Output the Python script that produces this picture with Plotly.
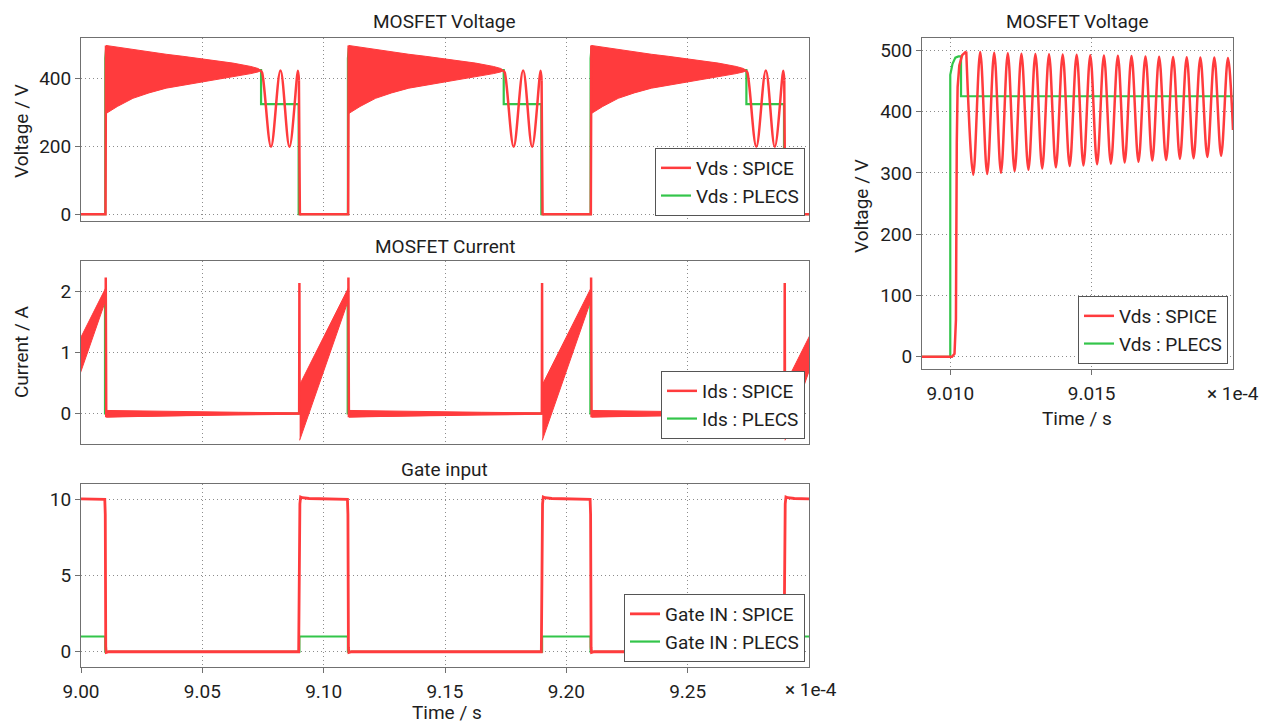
import plotly.graph_objects as go

W, H = 1273, 724
def px(x): return x / W
def py(y): return 1 - y / H

RED = '#ff3b3d'
GREEN = '#33c54a'
FONT = 'Roboto'
TXT = '#1e1e1e'
FRAME = '#707070'
GRID = '#8c8c8c'

# ---------------- data (time in units of 1e-4 s) ----------------
# gate turn-on instants of the switching cycles
cycle_on = [8.99, 9.09, 9.19, 9.29]

# Vds SPICE, times relative to gate turn-on
vds_spice_rise_t = [0.0004, 0.0201, 0.0202, 0.0203]
vds_spice_rise_v = [0, 0, 250, 498]
vds_ring_t = [0.0203, 0.0250, 0.0314, 0.0380, 0.0451, 0.0520, 0.0588, 0.0660, 0.0726, 0.0800, 0.0830, 0.0842]
vds_ring_upper = [498, 493, 485, 479, 472, 466, 460, 453, 446, 436, 430, 424]
vds_ring_lower = [297, 318, 342, 358, 372, 382, 389, 398, 406, 415, 420, 424]
vds_dcm_t = [0.0840, 0.0846, 0.0883, 0.0922, 0.0959, 0.0994, 0.0998]
vds_dcm_v = [424, 418, 199, 424, 199, 423, 395]
vds_fall_t = [0.0998, 0.1000, 0.1002, 0.1004]
vds_fall_v = [395, 150, -3, 0]

# Vds PLECS, relative to gate turn-on
vds_plecs_t = [0.0000, 0.0200, 0.0200, 0.02008, 0.02018, 0.02029, 0.02038, 0.02038,
               0.0842, 0.0842, 0.0997, 0.0997, 0.1000]
vds_plecs_v = [0, 0, 460, 478, 488, 490, 490, 425, 425, 325, 325, 0, 0]

# Ids SPICE, relative to gate turn-on
ids_spice_t = [-0.0001, 0.0000, 0.0001, None, 0.0202, 0.0202, 0.0204, 0.0999]
ids_spice_v = [0.0, 2.14, 0.0, None, 1.96, 2.23, -0.04, 0.0]
ids_on_band_t = [0.0001, 0.0202]
ids_on_band_upper = [0.47, 2.06]
ids_on_band_lower = [-0.44, 1.86]
ids_off_band_t = [0.0204, 0.0350, 0.0550, 0.0750, 0.0999]
ids_off_band_upper = [0.05, 0.04, 0.03, 0.02, 0.01]
ids_off_band_lower = [-0.06, -0.05, -0.03, -0.015, -0.01]

# Ids PLECS
ids_plecs_t = [0.0, 0.0199, 0.0199, 0.1000]
ids_plecs_v = [0.0, 1.99, 0.0, 0.0]

# Gate SPICE / PLECS
gate_spice_t = [-0.0003, 0.0002, 0.0005, 0.0012, 0.0040, 0.0198, 0.0200, 0.0202, 0.0204, 0.0215, 0.0997]
gate_spice_v = [0.0, 9.7, 10.15, 10.1, 10.05, 10.0, 9.0, 0.3, -0.05, 0.0, 0.0]
gate_plecs_t = [0.0, 0.0, 0.0200, 0.0200, 0.1000]
gate_plecs_v = [0, 1, 1, 0, 0]

# Zoomed Vds SPICE (absolute time)
zoom_rise_t = [9.0090, 9.01006, 9.01015, 9.01020, 9.01023, 9.01026, 9.01032, 9.01042, 9.010565]
zoom_rise_v = [0, 0, 5, 60, 350, 440, 475, 492, 498]
zoom_peak_t = [9.010565, 9.011059, 9.011553, 9.012035, 9.012517, 9.013011, 9.013493, 9.013976,
               9.014470, 9.014952, 9.015434, 9.015928, 9.016410, 9.016904, 9.017387, 9.017881,
               9.018363, 9.018845, 9.019339, 9.019821]
zoom_peak_v = [498, 497, 496, 495, 494.5, 494, 493.5, 493, 492.5, 492, 491.5, 491, 490.5, 490,
               489.5, 489, 488.5, 488, 488, 487.5]
zoom_trough_t = [9.010812, 9.011306, 9.011794, 9.012276, 9.012764, 9.013252, 9.013735, 9.014223,
                 9.014711, 9.015193, 9.015681, 9.016169, 9.016657, 9.017146, 9.017634, 9.018122,
                 9.018604, 9.019092, 9.019580]
zoom_trough_v = [297, 298, 300, 303, 305, 307, 309, 311, 312, 314, 315, 317, 318, 320, 321, 323,
                 324, 326, 328]
zoom_end_t = [9.0200]
zoom_end_v = [370]

# tick labels
left_x_ticks = [9.00, 9.05, 9.10, 9.15, 9.20, 9.25]
left_x_ticktext = ['9.00', '9.05', '9.10', '9.15', '9.20', '9.25']
right_x_ticks = [9.010, 9.015]
right_x_ticktext = ['9.010', '9.015']
vds_y_ticks = [0, 200, 400]
ids_y_ticks = [0, 1, 2]
gate_y_ticks = [0, 5, 10]
zoom_y_ticks = [0, 100, 200, 300, 400, 500]


# ---------------- helpers ----------------
def tile(rel_t, vals, starts, sep=False):
    xs, ys = [], []
    for s in starts:
        for t, v in zip(rel_t, vals):
            xs.append(None if t is None else s + t)
            ys.append(v)
        if sep:
            xs.append(None); ys.append(None)
    return xs, ys


def tile_band(rel_t, upper, lower, starts):
    xs, ys = [], []
    for s in starts:
        xs += [s + t for t in rel_t] + [s + t for t in reversed(rel_t)] + [None]
        ys += list(upper) + list(reversed(lower)) + [None]
    return xs, ys


def tile_multi(segments, starts):
    xs, ys = [], []
    for s in starts:
        for (ts, vs, brk) in segments:
            for t, v in zip(ts, vs):
                xs.append(s + t); ys.append(v)
            if brk:
                xs.append(None); ys.append(None)
    return xs, ys


fig = go.Figure()

def band(x, y, xa, ya):
    fig.add_trace(go.Scatter(x=x, y=y, xaxis=xa, yaxis=ya, mode='lines', fill='toself',
                             fillcolor=RED, line=dict(color=RED, width=1), showlegend=False,
                             hoverinfo='skip'))

# ---- Panel 1: Vds ----
x, y = tile(vds_plecs_t, vds_plecs_v, cycle_on)
fig.add_trace(go.Scatter(x=x, y=y, xaxis='x', yaxis='y', mode='lines', name='Vds : PLECS',
                         line=dict(color=GREEN, width=2.2), legend='legend', legendrank=2))
x, y = tile_band(vds_ring_t, vds_ring_upper, vds_ring_lower, cycle_on)
band(x, y, 'x', 'y')
x, y = tile(vds_dcm_t, vds_dcm_v, cycle_on, sep=True)
fig.add_trace(go.Scatter(x=x, y=y, xaxis='x', yaxis='y', mode='lines', showlegend=False,
                         line=dict(color=RED, width=2.5, shape='spline', smoothing=1)))
x, y = tile_multi([(vds_spice_rise_t, vds_spice_rise_v, True), (vds_fall_t, vds_fall_v, False)], cycle_on)
fig.add_trace(go.Scatter(x=x, y=y, xaxis='x', yaxis='y', mode='lines', name='Vds : SPICE',
                         line=dict(color=RED, width=2.5), legend='legend', legendrank=1))

# ---- Panel 2: Ids ----
x, y = tile(ids_plecs_t, ids_plecs_v, cycle_on)
fig.add_trace(go.Scatter(x=x, y=y, xaxis='x2', yaxis='y2', mode='lines', name='Ids : PLECS',
                         line=dict(color=GREEN, width=2.2), legend='legend2', legendrank=2))
x, y = tile_band(ids_on_band_t, ids_on_band_upper, ids_on_band_lower, cycle_on)
band(x, y, 'x2', 'y2')
x, y = tile_band(ids_off_band_t, ids_off_band_upper, ids_off_band_lower, cycle_on)
band(x, y, 'x2', 'y2')
x, y = tile(ids_spice_t, ids_spice_v, cycle_on)
fig.add_trace(go.Scatter(x=x, y=y, xaxis='x2', yaxis='y2', mode='lines', name='Ids : SPICE',
                         line=dict(color=RED, width=2.5), legend='legend2', legendrank=1))

# ---- Panel 3: Gate ----
x, y = tile(gate_plecs_t, gate_plecs_v, cycle_on)
fig.add_trace(go.Scatter(x=x, y=y, xaxis='x3', yaxis='y3', mode='lines', name='Gate IN : PLECS',
                         line=dict(color=GREEN, width=2.2), legend='legend3', legendrank=2))
x, y = tile(gate_spice_t, gate_spice_v, cycle_on)
fig.add_trace(go.Scatter(x=x, y=y, xaxis='x3', yaxis='y3', mode='lines', name='Gate IN : SPICE',
                         line=dict(color=RED, width=2.8), legend='legend3', legendrank=1))

# ---- Panel 4: zoomed Vds ----
x, y = tile(vds_plecs_t, vds_plecs_v, cycle_on)
fig.add_trace(go.Scatter(x=x, y=y, xaxis='x4', yaxis='y4', mode='lines', name='Vds : PLECS',
                         line=dict(color=GREEN, width=2.2), legend='legend4', legendrank=2))
osc_t, osc_v = [], []
for i in range(len(zoom_peak_t)):
    osc_t.append(zoom_peak_t[i]); osc_v.append(zoom_peak_v[i])
    if i < len(zoom_trough_t):
        osc_t.append(zoom_trough_t[i]); osc_v.append(zoom_trough_v[i])
osc_t += zoom_end_t; osc_v += zoom_end_v
fig.add_trace(go.Scatter(x=osc_t, y=osc_v, xaxis='x4', yaxis='y4', mode='lines', showlegend=False,
                         line=dict(color=RED, width=2.5, shape='spline', smoothing=1)))
fig.add_trace(go.Scatter(x=zoom_rise_t, y=zoom_rise_v, xaxis='x4', yaxis='y4', mode='lines',
                         name='Vds : SPICE', line=dict(color=RED, width=2.5),
                         legend='legend4', legendrank=1))

# ---------------- layout ----------------
LX = [px(81), px(809)]
RX = [px(922), px(1233)]
axis_common = dict(showline=True, mirror=True, linecolor=FRAME, linewidth=1,
                   showgrid=True, gridcolor=GRID, griddash='1px,3px', gridwidth=1,
                   zeroline=False, tickfont=dict(family=FONT, size=19, color=TXT),
                   tickcolor=FRAME, ticklen=5, automargin=False)

def xax(anchor, domain, rng, tv, tt, labels):
    d = dict(axis_common, anchor=anchor, domain=domain, range=rng, tickmode='array',
             tickvals=tv, ticktext=tt, showticklabels=labels,
             ticks='outside' if labels else '', ticklabelstandoff=2)
    return d

def yax(anchor, domain, rng, tv):
    return dict(axis_common, anchor=anchor, domain=domain, range=rng, tickmode='array',
                tickvals=tv, ticktext=[str(v) for v in tv], ticks='outside')

legend_common = dict(bgcolor='white', bordercolor='#555555', borderwidth=1,
                     font=dict(family=FONT, size=19, color=TXT),
                     xanchor='right', yanchor='bottom', tracegroupgap=0)

fig.update_layout(
    width=W, height=H, margin=dict(l=0, r=0, t=0, b=0, autoexpand=False),
    paper_bgcolor='white', plot_bgcolor='white',
    font=dict(family=FONT, size=19, color=TXT),
    xaxis=xax('y', LX, [9.0, 9.3], left_x_ticks, left_x_ticktext, False),
    xaxis2=xax('y2', LX, [9.0, 9.3], left_x_ticks, left_x_ticktext, False),
    xaxis3=xax('y3', LX, [9.0, 9.3], left_x_ticks, left_x_ticktext, True),
    xaxis4=xax('y4', RX, [9.009, 9.020], right_x_ticks, right_x_ticktext, True),
    yaxis=yax('x', [py(221), py(38)], [-20, 520], vds_y_ticks),
    yaxis2=yax('x2', [py(444), py(261)], [-0.5, 2.5], ids_y_ticks),
    yaxis3=yax('x3', [py(667), py(484)], [-1, 11], gate_y_ticks),
    yaxis4=yax('x4', [py(369), py(38)], [-20, 520], zoom_y_ticks),
    legend=dict(legend_common, x=px(805), y=py(216)),
    legend2=dict(legend_common, x=px(805), y=py(439)),
    legend3=dict(legend_common, x=px(805), y=py(662)),
    legend4=dict(legend_common, x=px(1228), y=py(364)),
    showlegend=True,
)

def ann(text, x, y, xanchor='center', angle=0):
    fig.add_annotation(text=text, x=px(x), y=py(y), xref='paper', yref='paper',
                       xanchor=xanchor, yanchor='middle', showarrow=False, textangle=angle,
                       font=dict(family=FONT, size=19, color=TXT))

ann('MOSFET Voltage', 445, 22)
ann('MOSFET Current', 445, 246)
ann('Gate input', 445, 469)
ann('MOSFET Voltage', 1077, 22)
ann('Voltage / V', 21, 131, angle=-90)
ann('Current / A', 21, 352, angle=-90)
ann('Voltage / V', 861, 206, angle=-90)
ann('Time / s', 447, 712)
ann('Time / s', 1077, 418)
ann('× 1e-4', 783, 689, xanchor='left')
ann('× 1e-4', 1205, 393, xanchor='left')

fig.write_html('out.html', config={'displayModeBar': False},
               post_script="document.body.style.margin='0px';document.body.style.overflow='hidden';")
